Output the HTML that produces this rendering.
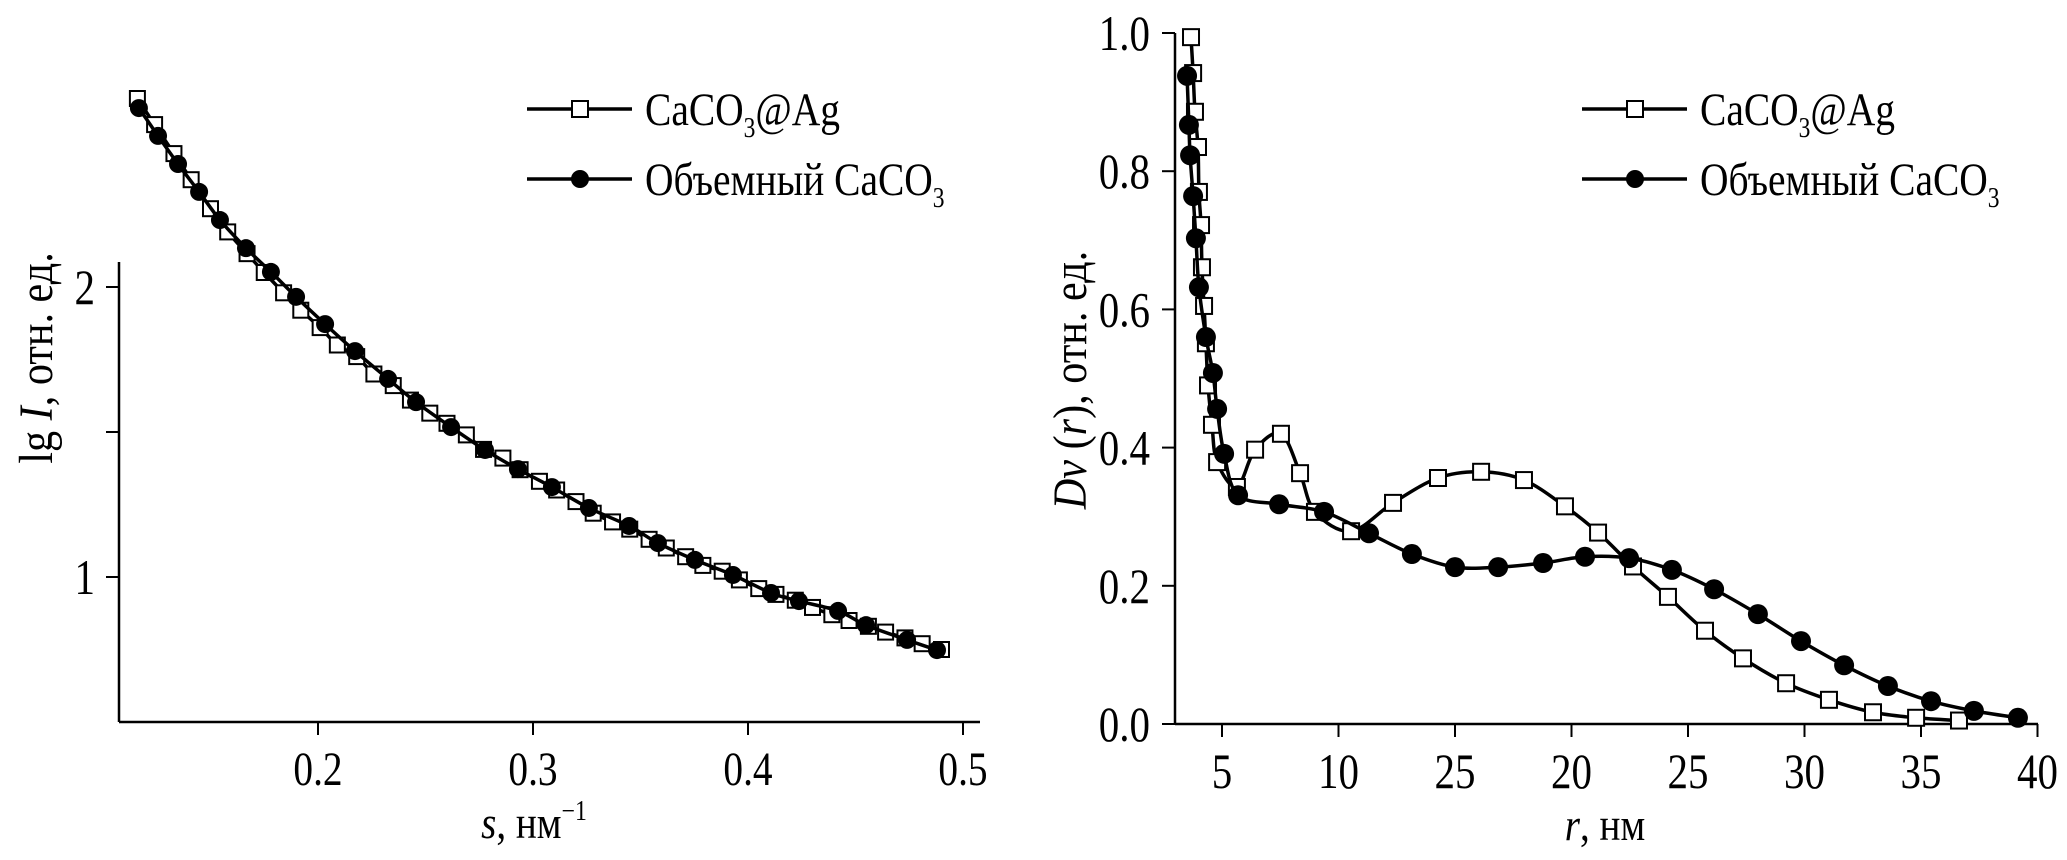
<!DOCTYPE html>
<html><head><meta charset="utf-8"><style>
html,body{margin:0;padding:0;background:#fff;}
svg{display:block;}
text{font-family:"Liberation Serif","DejaVu Serif",serif;fill:#000;}
</style></head><body>
<svg id="fig" width="2067" height="860" viewBox="0 0 2067 860" xmlns="http://www.w3.org/2000/svg">
<g id="left"></g>
<g id="right"></g>
</svg>
<script>
// ---- Left panel data ----
const sSquares = [0.116,0.124,0.133,0.141,0.150,0.158,0.167,0.175,0.184,0.192,0.201,0.209,0.218,0.226,0.235,0.243,0.252,0.260,0.269,0.277,0.286,0.294,0.303,0.311,0.320,0.328,0.337,0.345,0.354,0.362,0.371,0.379,0.388,0.396,0.405,0.413,0.422,0.430,0.439,0.447,0.456,0.464,0.473,0.481,0.490];
const lgSquares = [2.65,2.56,2.46,2.37,2.27,2.19,2.115,2.05,1.98,1.92,1.86,1.80,1.76,1.70,1.66,1.61,1.565,1.53,1.49,1.44,1.41,1.37,1.33,1.30,1.26,1.22,1.19,1.165,1.13,1.10,1.07,1.04,1.02,0.99,0.96,0.94,0.92,0.895,0.87,0.85,0.83,0.81,0.79,0.77,0.75];
const sCircles = [0.1167,0.1256,0.1349,0.1447,0.1544,0.1665,0.1781,0.1898,0.2033,0.2172,0.2326,0.2456,0.2619,0.2777,0.2930,0.3088,0.3260,0.3447,0.3581,0.3753,0.3930,0.4107,0.4237,0.4419,0.4549,0.4740,0.4879];
const lgCircles = [2.617,2.521,2.424,2.328,2.231,2.134,2.052,1.966,1.872,1.779,1.683,1.603,1.517,1.438,1.372,1.310,1.238,1.176,1.117,1.059,1.007,0.945,0.917,0.883,0.834,0.783,0.748];
const leftXTicks = [0.2,0.3,0.4,0.5];
const leftXTickLabels = ["0.2","0.3","0.4","0.5"];
const leftYTicks = [2,1.5,1];
const leftYTickLabels = ["2","","1"];
// ---- Right panel data ----
const rSquares = [3.67,3.76,3.84,3.97,4.01,4.10,4.14,4.23,4.31,4.40,4.57,4.79,5.64,6.42,7.53,8.35,8.99,10.54,12.34,14.27,16.12,17.96,19.72,21.14,22.64,24.14,25.73,27.36,29.21,31.05,32.94,34.79,36.63];
const dvSquares = [0.994,0.942,0.886,0.835,0.770,0.722,0.661,0.605,0.551,0.490,0.433,0.379,0.343,0.397,0.420,0.363,0.307,0.279,0.320,0.356,0.365,0.353,0.315,0.277,0.228,0.184,0.135,0.095,0.059,0.035,0.017,0.009,0.005];
const rCircles = [3.50,3.58,3.63,3.76,3.88,4.01,4.31,4.61,4.79,5.09,5.69,7.45,9.38,11.31,13.15,15.00,16.85,18.78,20.58,22.47,24.31,26.12,28.00,29.85,31.70,33.58,35.43,37.27,39.16];
const dvCircles = [0.938,0.867,0.823,0.764,0.703,0.632,0.560,0.508,0.456,0.391,0.331,0.318,0.307,0.276,0.246,0.227,0.227,0.233,0.242,0.240,0.223,0.195,0.159,0.120,0.085,0.055,0.033,0.019,0.009];
const rightXTicks = [5,10,15,20,25,30,35,40];
const rightXTickLabels = ["5","10","25","20","25","30","35","40"];
const rightYTicks = [0,0.2,0.4,0.6,0.8,1.0];
const rightYTickLabels = ["0.0","0.2","0.4","0.6","0.8","1.0"];

const NS="http://www.w3.org/2000/svg";
function mk(parent,tag,attrs,text){const e=document.createElementNS(NS,tag);for(const k in attrs)e.setAttribute(k,attrs[k]);if(text!==undefined)e.textContent=text;parent.appendChild(e);return e;}
function txt(parent,x,y,size,anchor,html,sx,rot){
  const e=mk(parent,"text",{x:0,y:0,"font-size":size,"text-anchor":anchor,transform:"translate("+x+","+y+")"+(rot?" rotate("+rot+")":"")+" scale("+sx+",1)"});
  e.innerHTML=html;
  return e;
}
function smooth(pts){
  let d="M"+pts[0][0]+","+pts[0][1];
  for(let i=0;i<pts.length-1;i++){
    const p0=pts[Math.max(0,i-1)],p1=pts[i],p2=pts[i+1],p3=pts[Math.min(pts.length-1,i+2)];
    const t=6;
    const c1=[p1[0]+(p2[0]-p0[0])/t,p1[1]+(p2[1]-p0[1])/t];
    const c2=[p2[0]-(p3[0]-p1[0])/t,p2[1]-(p3[1]-p1[1])/t];
    d+=" C"+c1[0]+","+c1[1]+" "+c2[0]+","+c2[1]+" "+p2[0]+","+p2[1];
  }
  return d;
}
function legend(g,x0,y0){
  const l1=mk(g,"line",{x1:x0,y1:y0,x2:x0+105,y2:y0,stroke:"#000","stroke-width":3.5});
  
  
  const s1=mk(g,"rect",{x:x0+45,y:y0-8,width:16,height:16,fill:"#fff",stroke:"#000","stroke-width":2});
  
  
  const t1=txt(g,x0+118,y0+16,47,"start",'CaCO<tspan font-size="28" dy="12">3</tspan><tspan dy="-12">@Ag</tspan>',0.84);
  
  
  const y1=y0+70;
  const l2=mk(g,"line",{x1:x0,y1:y1,x2:x0+105,y2:y1,stroke:"#000","stroke-width":3.5});
  
  
  const c2=mk(g,"circle",{cx:x0+53,cy:y1,r:9,fill:"#000"});
  
  
  const t2=txt(g,x0+118,y1+16,47,"start",'Объемный CaCO<tspan font-size="28" dy="12">3</tspan>',0.84);
  
  
}
function series(g,xs,ys,X,Y,kind,name,size){
  const pts=xs.map((v,i)=>[X(v),Y(ys[i])]);
  const p=mk(g,"path",{d:smooth(pts),fill:"none",stroke:"#000","stroke-width":3.5});
  
  
  pts.forEach(pt=>{
    let m;
    if(kind==="sq"){m=mk(g,"rect",{x:pt[0]-size/2,y:pt[1]-size/2,width:size,height:size,fill:"#fff",stroke:"#000","stroke-width":2});}
    else{m=mk(g,"circle",{cx:pt[0],cy:pt[1],r:size,fill:"#000"});}
    
    
  });
}
// ---- Left panel ----
(function(){
  const g=document.getElementById("left");
  const X=s=>318+(s-0.2)*2150;
  const Y=v=>577-(v-1)*290;
  const ya=mk(g,"line",{x1:119,y1:262,x2:119,y2:722,stroke:"#000","stroke-width":2.5});
  
  
  const xa=mk(g,"line",{x1:119,y1:722,x2:980,y2:722,stroke:"#000","stroke-width":2.5});
  
  
  leftXTicks.forEach((t,i)=>{
    const tk=mk(g,"line",{x1:X(t),y1:722,x2:X(t),y2:735,stroke:"#000","stroke-width":2});
    
    
    const lb=txt(g,X(t),785,48,"middle",leftXTickLabels[i],0.82);
    
    
  });
  leftYTicks.forEach((t,i)=>{
    const tk=mk(g,"line",{x1:106,y1:Y(t),x2:119,y2:Y(t),stroke:"#000","stroke-width":2});
    
    
    if(leftYTickLabels[i]){
      const lb=txt(g,95,Y(t)+17,50,"end",leftYTickLabels[i],0.82);
      
      
    }
  });
  const xt=txt(g,534,838,46,"middle",'<tspan font-style="italic">s</tspan>, нм<tspan font-size="28" dy="-18">−1</tspan>',0.85);
  
  
  const yt=txt(g,52,358,48,"middle",'lg <tspan font-style="italic">I</tspan>, отн. ед.',0.88,-90);
  
  
  series(g,sSquares,lgSquares,X,Y,"sq","left-caco3-ag",15);
  series(g,sCircles,lgCircles,X,Y,"ci","left-bulk-caco3",9);
  legend(g,527,109);
})();
// ---- Right panel ----
(function(){
  const g=document.getElementById("right");
  const X=r=>1222+(r-5)*23.3;
  const Y=v=>724-v*691;
  const ya=mk(g,"line",{x1:1175,y1:Y(1),x2:1175,y2:724,stroke:"#000","stroke-width":2.5});
  
  
  const xa=mk(g,"line",{x1:1175,y1:724,x2:2038,y2:724,stroke:"#000","stroke-width":2.5});
  
  
  rightXTicks.forEach((t,i)=>{
    const tk=mk(g,"line",{x1:X(t),y1:724,x2:X(t),y2:737,stroke:"#000","stroke-width":2});
    
    
    const lb=txt(g,X(t),788,50,"middle",rightXTickLabels[i],0.82);
    
    
  });
  rightYTicks.forEach((t,i)=>{
    const tk=mk(g,"line",{x1:1162,y1:Y(t),x2:1175,y2:Y(t),stroke:"#000","stroke-width":2});
    
    
    const lb=txt(g,1150,Y(t)+17,50,"end",rightYTickLabels[i],0.82);
    
    
  });
  const xt=txt(g,1605,840,46,"middle",'<tspan font-style="italic">r</tspan>, нм',0.85);
  
  
  const yt=txt(g,1086,380,48,"middle",'<tspan font-style="italic">Dv</tspan> (<tspan font-style="italic">r</tspan>), отн. ед.',0.88,-90);
  
  
  series(g,rSquares,dvSquares,X,Y,"sq","right-caco3-ag",16);
  series(g,rCircles,dvCircles,X,Y,"ci","right-bulk-caco3",10);
  legend(g,1582,109);
})();
</script>
</body></html>
